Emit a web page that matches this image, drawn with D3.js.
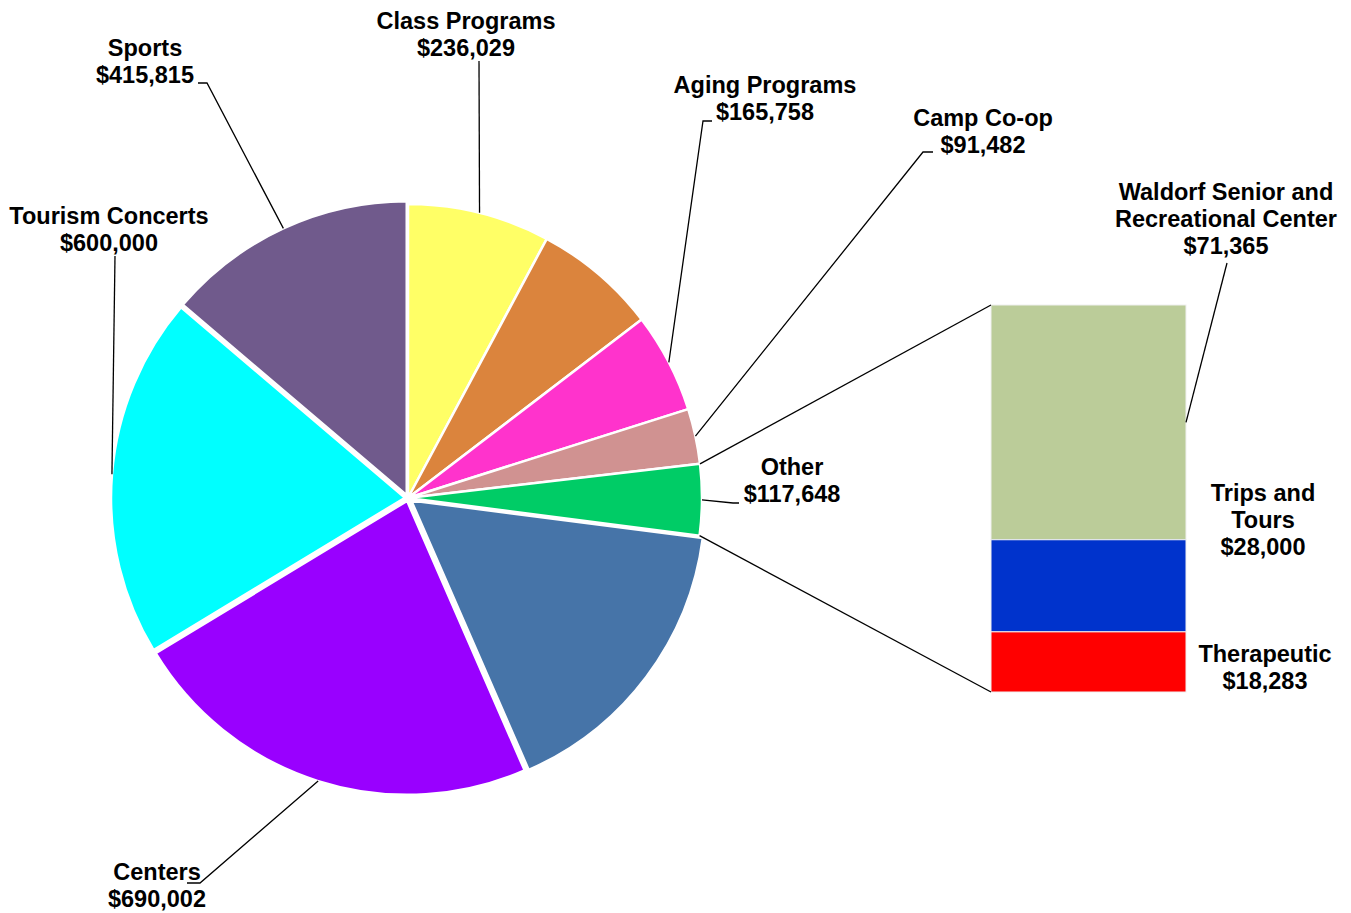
<!DOCTYPE html>
<html>
<head>
<meta charset="utf-8">
<script src="https://cdn.jsdelivr.net/npm/d3@7"></script>
<style>
  body { margin: 0; background: #fff; }
  text { font-family: "Liberation Sans", Arial, sans-serif; font-weight: bold; font-size: 23.5px; fill: #000; }
</style>
</head>
<body>
<div id="chart"></div>
<script>
// Pie slices, clockwise from 12 o'clock (two slices carry no label in the source)
const sliceNames = ["Class Programs", "Unlabeled A", "Aging Programs", "Camp Co-op", "Other", "Unlabeled B", "Centers", "Tourism Concerts", "Sports"]
const sliceValues = [236029, 205000, 165758, 91482, 117648, 495000, 690002, 600000, 415815]
const sliceLabelled = [true, false, true, true, true, false, true, true, true]

// Breakdown of "Other", top to bottom in the bar
const otherNames = ["Waldorf Senior and Recreational Center", "Trips and Tours", "Therapeutic"]
const otherValues = [71365, 28000, 18283]

const sliceColors = ["#FFFF66", "#DB843D", "#FF33CC", "#D09291", "#00CC66", "#4674A8", "#9900FF", "#00FFFF", "#705A8C"]
const barColors = ["#BBCC99", "#0033CC", "#FF0000"]

const width = 1351, height = 913
const cx = 408, cy = 498, r = 294
const explode = {"Unlabeled B": 4, "Centers": 3, "Tourism Concerts": 3, "Sports": 3}

// label placement: center x, first baseline, lines, leader elbow points
const labelLayout = {
  "Class Programs":   {x: 466, y: 29, lines: ["Class Programs"], leader: [[479, 61]]},
  "Sports":           {x: 145, y: 56, lines: ["Sports"], leader: [[207, 83], [198, 83]]},
  "Tourism Concerts": {x: 109, y: 224, lines: ["Tourism Concerts"], leader: [[115, 256]]},
  "Aging Programs":   {x: 765, y: 93, lines: ["Aging Programs"], leader: [[703, 121], [712, 121]]},
  "Camp Co-op":       {x: 983, y: 126, lines: ["Camp Co-op"], leader: [[923, 152], [933, 152]]},
  "Other":            {x: 792, y: 475, lines: ["Other"], leader: [[733, 503], [739, 503]]},
  "Centers":          {x: 157, y: 880, lines: ["Centers"], leader: [[200, 883], [187, 883]]},
  "Waldorf Senior and Recreational Center": {x: 1226, y: 200, lines: ["Waldorf Senior and", "Recreational Center"], leader: [[1227, 263]]},
  "Trips and Tours":  {x: 1263, y: 501, lines: ["Trips and", "Tours"], leader: null},
  "Therapeutic":      {x: 1265, y: 662, lines: ["Therapeutic"], leader: null}
}
const lineH = 27

const fmt = v => "$" + d3.format(",")(v)

const svg = d3.select("#chart")
  .append("svg")
  .attr("width", width)
  .attr("height", height)

const slices = sliceNames.map((n, i) => ({name: n, value: sliceValues[i], labelled: sliceLabelled[i]}))

const color = d3.scaleOrdinal().domain(sliceNames).range(sliceColors)

const pie = d3.pie().sort(null).value(d => d.value)
const arcs = pie(slices)

const arc = d3.arc().innerRadius(0).outerRadius(r)
const rimArc = d3.arc().innerRadius(r).outerRadius(r)

function offset(d) {
  const e = explode[d.data.name] || 0
  const a = (d.startAngle + d.endAngle) / 2
  return [Math.sin(a) * e, -Math.cos(a) * e]
}

const pieG = svg.append("g").attr("transform", `translate(${cx},${cy})`)

pieG.selectAll("path")
  .data(arcs)
  .join("path")
    .attr("d", arc)
    .attr("transform", d => `translate(${offset(d)})`)
    .attr("fill", d => color(d.data.name))
    .attr("stroke", "#fff")
    .attr("stroke-width", 2.5)
    .attr("stroke-linejoin", "round")

// ----------------- //
// Bar of "Other"
// ----------------- //
const barX = 991, barW = 195, barTop = 305, barBottom = 692
const otherTotal = d3.sum(otherValues)
const y = d3.scaleLinear().domain([0, otherTotal]).range([barTop, barBottom])

const stacked = []
let acc = 0
otherNames.forEach((n, i) => {
  stacked.push({name: n, value: otherValues[i], y0: acc, y1: acc + otherValues[i]})
  acc += otherValues[i]
})

svg.selectAll("rect.seg")
  .data(stacked)
  .join("rect")
    .attr("class", "seg")
    .attr("x", barX)
    .attr("width", barW)
    .attr("y", d => y(d.y0))
    .attr("height", d => y(d.y1) - y(d.y0))
    .attr("fill", (d, i) => barColors[i])
    .attr("stroke", "#f0f0f0")
    .attr("stroke-width", 1)

// connector lines from the "Other" slice to the bar
const otherArc = arcs.find(d => d.data.name === "Other")
const pt = (a) => [cx + Math.sin(a) * r, cy - Math.cos(a) * r]
const p0 = pt(otherArc.startAngle), p1 = pt(otherArc.endAngle)
svg.append("line")
  .attr("x1", p0[0]).attr("y1", p0[1]).attr("x2", barX).attr("y2", y(0))
  .attr("stroke", "#000").attr("stroke-width", 1.3)
svg.append("line")
  .attr("x1", p1[0]).attr("y1", p1[1]).attr("x2", barX).attr("y2", y(otherTotal))
  .attr("stroke", "#000").attr("stroke-width", 1.3)

// ------------------------------- //
// Labels and leader lines
// ------------------------------- //
const labelItems = []
arcs.filter(d => d.data.labelled).forEach(d => {
  const c = rimArc.centroid(d), o = offset(d)
  labelItems.push({name: d.data.name, value: d.data.value, anchor: [cx + c[0] + o[0], cy + c[1] + o[1]]})
})
stacked.forEach(d => {
  labelItems.push({name: d.name, value: d.value, anchor: [barX + barW, (y(d.y0) + y(d.y1)) / 2]})
})

const line = d3.line()

labelItems.forEach(d => {
  const L = labelLayout[d.name]
  if (L.leader) {
    svg.append("path")
      .attr("d", line([d.anchor].concat(L.leader)))
      .attr("fill", "none")
      .attr("stroke", "#000")
      .attr("stroke-width", 1.3)
  }
  const t = svg.append("text")
    .attr("text-anchor", "middle")
    .attr("x", L.x)
    .attr("y", L.y)
  L.lines.concat([fmt(d.value)]).forEach((s, i) => {
    t.append("tspan").attr("x", L.x).attr("dy", i === 0 ? 0 : lineH).text(s)
  })
})
</script>
</body>
</html>
